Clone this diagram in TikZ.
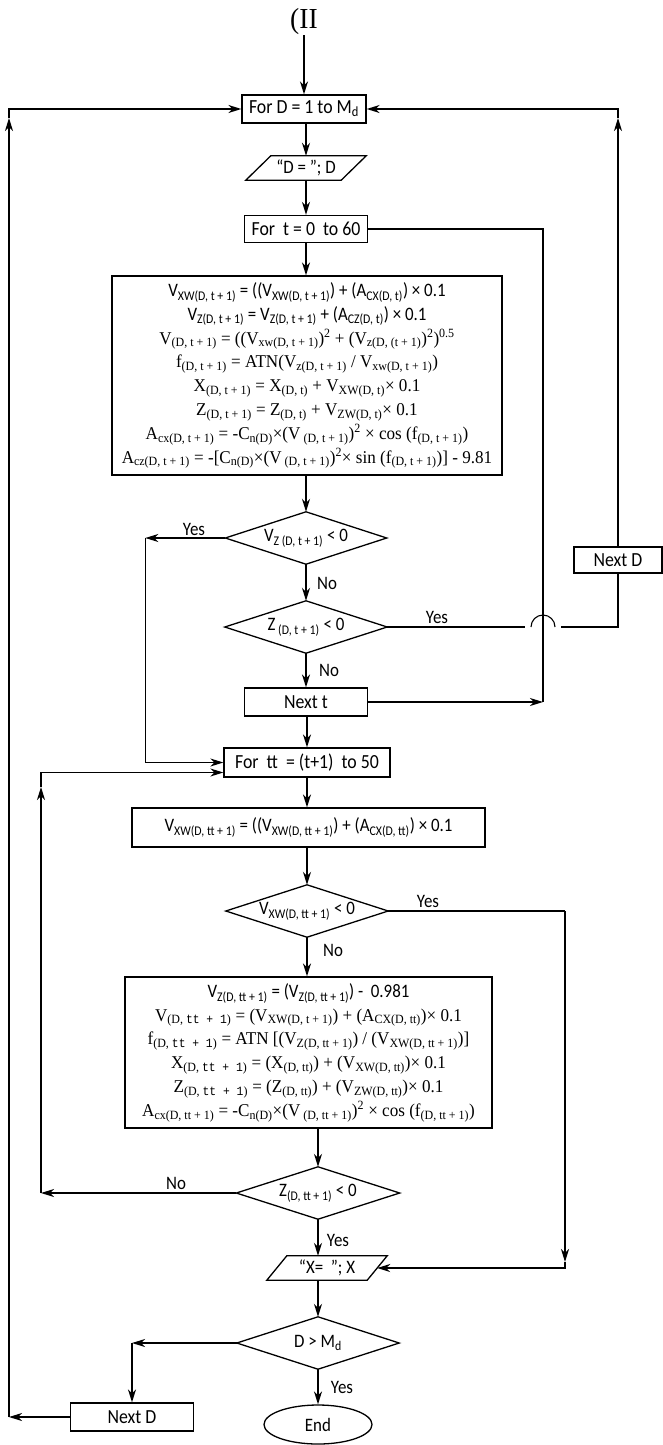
\documentclass[tikz,border=0pt]{standalone}
\usepackage{fontspec}
\setmainfont{Liberation Serif}[FakeStretch=0.95]
\setsansfont{Carlito}[FakeStretch=0.89]
\setmonofont{Liberation Mono}[FakeStretch=0.9]
\usetikzlibrary{arrows.meta,shapes.geometric,calc}
\newcommand{\sbs}[1]{\textsubscript{#1}}
\newcommand{\sps}[1]{\textsuperscript{#1}}
\newcommand{\diamondpath}[1]{\draw[outline] (#1.west) -- (#1.north) -- (#1.east) -- (#1.south) -- cycle;}
\newcommand{\parapath}[2]{\draw[outline] ($(#1.north west)+(#2,0)$) -- ($(#1.north east)+(#2,0)$) -- ($(#1.south east)+(-#2,0)$) -- ($(#1.south west)+(-#2,0)$) -- cycle;}
\tikzset{
  outline/.style={line width=1.3pt, line join=miter},
  arr/.style={line width=1.5pt, -{Stealth[length=13pt,width=8pt,inset=4pt]}},
  ln/.style={line width=1.5pt},
  thinln/.style={line width=1.1pt},
  boxnode/.style={draw, line width=1.3pt, inner sep=0pt, font=\sffamily\fontsize{20}{24}\selectfont},
  shapenode/.style={inner sep=0pt, font=\sffamily\fontsize{19}{22}\selectfont},
  eqbox/.style={draw, line width=1.3pt, inner sep=0pt, align=center, font=\rmfamily\fontsize{18}{23.8}\selectfont},
  lbl/.style={inner sep=0pt, font=\sffamily\fontsize{19}{22}\selectfont},
}
\begin{document}
\begin{tikzpicture}[x=1pt,y=-1pt]
\useasboundingbox (0,0) rectangle (662,1445);

% ---------- nodes ----------
\node[inner sep=0pt, font=\rmfamily\fontsize{29}{31}\selectfont] (title) at (304,22) {(II};
\node[boxnode, minimum width=124pt, minimum height=28pt] (forD) at (304,109) {For D = 1 to M\sbs{d}};
\node[shapenode, minimum width=95pt, minimum height=24pt] (outD) at (306,168) {“D = ”; D};
\node[boxnode, minimum width=123pt, minimum height=27pt] (forT) at (306,229) {For\ \ t = 0\ \ to 60};
\node[eqbox, minimum width=390pt, minimum height=199pt] (calcA) at (307,375.5) {%
{\sffamily\fontsize{19}{23.8}\selectfont V\sbs{XW(D, t + 1)} = ((V\sbs{XW(D, t + 1)}) + (A\sbs{CX(D, t)}) × 0.1}\\
{\sffamily\fontsize{19}{23.8}\selectfont V\sbs{Z(D, t + 1)} = V\sbs{Z(D, t + 1)} + (A\sbs{CZ(D, t)}) × 0.1}\\
V\sbs{(D, t + 1)} = ((V\sbs{xw(D, t + 1)})\sps{2} + (V\sbs{z(D, (t + 1)})\sps{2})\sps{0.5}\\
f\sbs{(D, t + 1)} = ATN(V\sbs{z(D, t + 1)} / V\sbs{xw(D, t + 1)})\\
X\sbs{(D, t + 1)} = X\sbs{(D, t)} + V\sbs{XW(D, t)}× 0.1\\
Z\sbs{(D, t + 1)} = Z\sbs{(D, t)} + V\sbs{ZW(D, t)}× 0.1\\
A\sbs{cx(D, t + 1)} = -C\sbs{n(D)}×(V\sbs{ (D, t + 1)})\sps{2} × cos (f\sbs{(D, t + 1)})\\
A\sbs{cz(D, t + 1)} = -[C\sbs{n(D)}×(V\sbs{ (D, t + 1)})\sps{2}× sin (f\sbs{(D, t + 1)})] - 9.81};
\node[shapenode, minimum width=161pt, minimum height=52pt] (decA) at (306,538) {V\sbs{Z (D, t + 1)} < 0};
\node[shapenode, minimum width=162pt, minimum height=52pt] (decB) at (306,627) {Z\sbs{ (D, t + 1)} < 0};
\node[boxnode, minimum width=88pt, minimum height=26pt] (nextDa) at (618,560) {Next D};
\node[boxnode, minimum width=123pt, minimum height=28pt] (nextT) at (306,702) {Next t};
\node[boxnode, minimum width=166pt, minimum height=29pt] (forTT) at (307,762.5) {For\ \ tt\ \ = (t+1)\ \ to 50};
\node[boxnode, minimum width=353pt, minimum height=39pt, font=\sffamily\fontsize{19}{22}\selectfont] (calcB) at (308.5,827.5) {V\sbs{XW(D, tt + 1)} = ((V\sbs{XW(D, tt + 1)}) + (A\sbs{CX(D, tt)}) × 0.1};
\node[shapenode, minimum width=162pt, minimum height=52pt] (decC) at (307,911) {V\sbs{XW(D, tt + 1)} < 0};
\node[eqbox, minimum width=367pt, minimum height=151pt] (calcC) at (308.5,1052.5) {%
{\sffamily\fontsize{19}{23.8}\selectfont V\sbs{Z(D, tt + 1)} = (V\sbs{Z(D, tt + 1)}) -\ \ 0.981}\\
V\sbs{(D, \texttt{tt + 1})} = (V\sbs{XW(D, t + 1)}) + (A\sbs{CX(D, tt)})× 0.1\\
f\sbs{(D, \texttt{tt + 1})} = ATN [(V\sbs{Z(D, tt + 1)}) / (V\sbs{XW(D, tt + 1)})]\\
X\sbs{(D, \texttt{tt + 1})} = (X\sbs{(D, tt)}) + (V\sbs{XW(D, tt)})× 0.1\\
Z\sbs{(D, \texttt{tt + 1})} = (Z\sbs{(D, tt)}) + (V\sbs{ZW(D, tt)})× 0.1\\
A\sbs{cx(D, tt + 1)} = -C\sbs{n(D)}×(V\sbs{ (D, tt + 1)})\sps{2} × cos (f\sbs{(D, tt + 1)})};
\node[shapenode, minimum width=163pt, minimum height=52pt] (decD) at (318,1193) {Z\sbs{(D, tt + 1)} < 0};
\node[shapenode, minimum width=100pt, minimum height=24pt] (outX) at (327,1268) {“X=\ \ ”; X};
\node[shapenode, minimum width=162pt, minimum height=52pt] (decE) at (318,1343) {D > M\sbs{d}};
\node[boxnode, minimum width=123pt, minimum height=28pt] (nextDb) at (132,1417) {Next D};
\node[draw, ellipse, line width=1.3pt, inner sep=0pt, minimum width=108pt, minimum height=39pt, font=\sffamily\fontsize{19}{22}\selectfont] (endN) at (318,1424.5) {End};

\diamondpath{decA}
\diamondpath{decB}
\diamondpath{decC}
\diamondpath{decD}
\diamondpath{decE}
\parapath{outD}{12.5}
\parapath{outX}{10}

% ---------- labels ----------
\node[lbl] (yesA) at (194,529) {Yes};
\node[lbl] (noA) at (327,583) {No};
\node[lbl] (yesB) at (437,617) {Yes};
\node[lbl] (noB) at (329,670) {No};
\node[lbl] (yesC) at (428,901) {Yes};
\node[lbl] (noC) at (333,950) {No};
\node[lbl] (noD) at (176,1183) {No};
\node[lbl] (yesD) at (338,1240) {Yes};
\node[lbl] (yesE) at (342,1387) {Yes};

% ---------- main chain ----------
\draw[arr] (title.south) -- (title.south |- forD.north);
\draw[arr] (forD.south -| outD.north) -- (outD.north);
\draw[arr] (outD.south) -- (forT.north);
\draw[arr] (forT.south) -- (forT.south |- calcA.north);
\draw[arr] (calcA.south -| decA.north) -- (decA.north);
\draw[arr] (decA.south) -- (decB.north);
\draw[arr] (decB.south) -- (nextT.north);
\draw[arr] (nextT.south -| forTT.north) -- (forTT.north);
\draw[arr] (forTT.south) -- (forTT.south |- calcB.north);
\draw[arr] (calcB.south -| decC.north) -- (decC.north);
\draw[arr] (decC.south) -- (decC.south |- calcC.north);
\draw[arr] (calcC.south -| decD.north) -- (decD.north);
\draw[arr] (decD.south) -- (decD.south |- outX.north);
\draw[arr] (outX.south -| decE.north) -- (decE.north);
\draw[arr] (decE.south) -- (endN.north);

% ---------- Yes of decA to For tt ----------
\coordinate (yesAL) at ($(decA.west)+(-80,0)$);
\draw[arr] (decA.west) -- (yesAL);
\draw[arr] (yesAL) |- (forTT.west);

% ---------- For t loop ----------
\coordinate (tR) at (543,702);
\draw[arr] (nextT.east) -- (tR);
\draw[thinln] (tR) |- (forT.east);

% ---------- Yes of decB with jump to Next D ----------
\coordinate (jA) at (525,627);
\coordinate (jB) at (531,627);
\coordinate (jC) at (561,627);
\coordinate (rC) at (618,627);
\draw[thinln] (decB.east) -- (jA);
\draw[thinln] (jB) arc[start angle=180, end angle=360, radius=12];
\draw[thinln] (jC) -- (rC) -- (nextDa.south);
\coordinate (rUp) at (618,118);
\draw[arr] (nextDa.north) -- (rUp);
\draw[arr] (rUp) |- (forD.east);

% ---------- Yes of decC to output ----------
\coordinate (yR) at (565,911);
\coordinate (yRd) at (565,1262);
\draw[ln] (decC.east) -- (yR);
\draw[arr] (yR) -- (yRd);
\draw[arr] (yRd) |- (outX.east);

% ---------- No of decD back to For tt ----------
\coordinate (noL) at (41,1193);
\coordinate (noLup) at (41,787);
\coordinate (forTTin) at ($(forTT.south west)!0.17!(forTT.north west)$);
\draw[arr] (decD.west) -- (noL);
\draw[arr] (noL) -- (noLup);
\draw[arr] (noLup) |- (forTTin);

% ---------- D > Md to Next D and back ----------
\coordinate (eL) at (decE.west -| nextDb.north);
\draw[arr] (decE.west) -- (eL);
\draw[arr] (eL) -- (nextDb.north);
\coordinate (LL) at (9,1417);
\coordinate (LUp) at (9,118);
\draw[arr] (nextDb.west) -- (LL);
\draw[arr] (LL) -- (LUp);
\draw[arr] (LUp) |- (forD.west);
\end{tikzpicture}
\end{document}
